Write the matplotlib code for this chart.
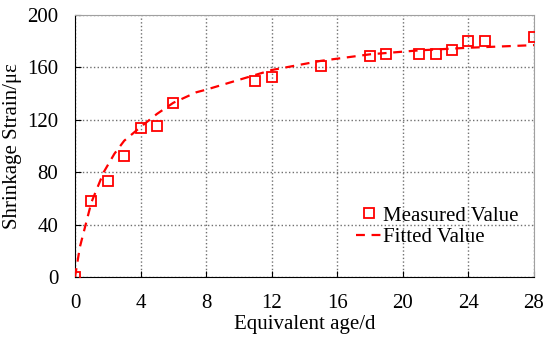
import matplotlib
matplotlib.use("Agg")
from matplotlib import pyplot as plt

# measured points
age = [0, 1, 2, 3, 4, 5, 6, 11, 12, 15, 18, 19, 21, 22, 23, 24, 25, 28]
strain = [0, 58, 73, 92, 114, 115, 133, 150, 153, 161, 169, 170, 170, 170, 173, 180, 180, 183]

# fitted curve
fit_age = [0, 0.3, 1, 1.75, 2.4, 3, 4, 5, 6, 7.4, 8, 10, 12, 15, 18, 21, 24, 28]
fit_strain = [0, 23, 57, 80, 94, 104, 114.5, 124.5, 133, 141, 143, 150.5, 158, 165, 170, 173, 175, 177]

plt.rcParams['font.family'] = ['Liberation Serif', 'DejaVu Serif']

fig = plt.figure(figsize=(5.5, 3.39), dpi=100)
ax = fig.add_axes([75/550, 1 - 277/339, 459/550, 262/339])

ax.plot(fit_age, fit_strain, '--', color='#ff0000', lw=1.6, dashes=(4, 3), label='Fitted Value', zorder=3)
ax.plot(age, strain, 's', mfc='none', mec='#ff0000', mew=1.3, ms=6.5, ls='none', label='Measured Value', zorder=4)

ax.set_xlim(0, 28)
ax.set_ylim(0, 200)
ax.set_xticks(range(0, 29, 4))
ax.set_yticks(range(0, 201, 40))
ax.grid(True, ls=':', color='#707070', lw=1)
ax.tick_params(direction='in', labelsize=15, length=4)
ax.tick_params(axis='x', pad=12)
ax.tick_params(axis='y', pad=12)
for s in ['top', 'right']:
    ax.spines[s].set_color('#a0a0a0')
ax.set_xlabel('Equivalent age/d', fontsize=15, labelpad=2)
ax.set_ylabel('Shrinkage Strain/με', fontsize=15, labelpad=4)

h, l = ax.get_legend_handles_labels()
ax.legend(h[::-1], l[::-1], loc='upper left', bbox_to_anchor=(356/550, 1 - 206/339),
          bbox_transform=fig.transFigure, frameon=False, borderpad=0, borderaxespad=0,
          fontsize=15, handlelength=1.2, handletextpad=0.1, labelspacing=0.1)

fig.savefig('out.png', dpi=100)
